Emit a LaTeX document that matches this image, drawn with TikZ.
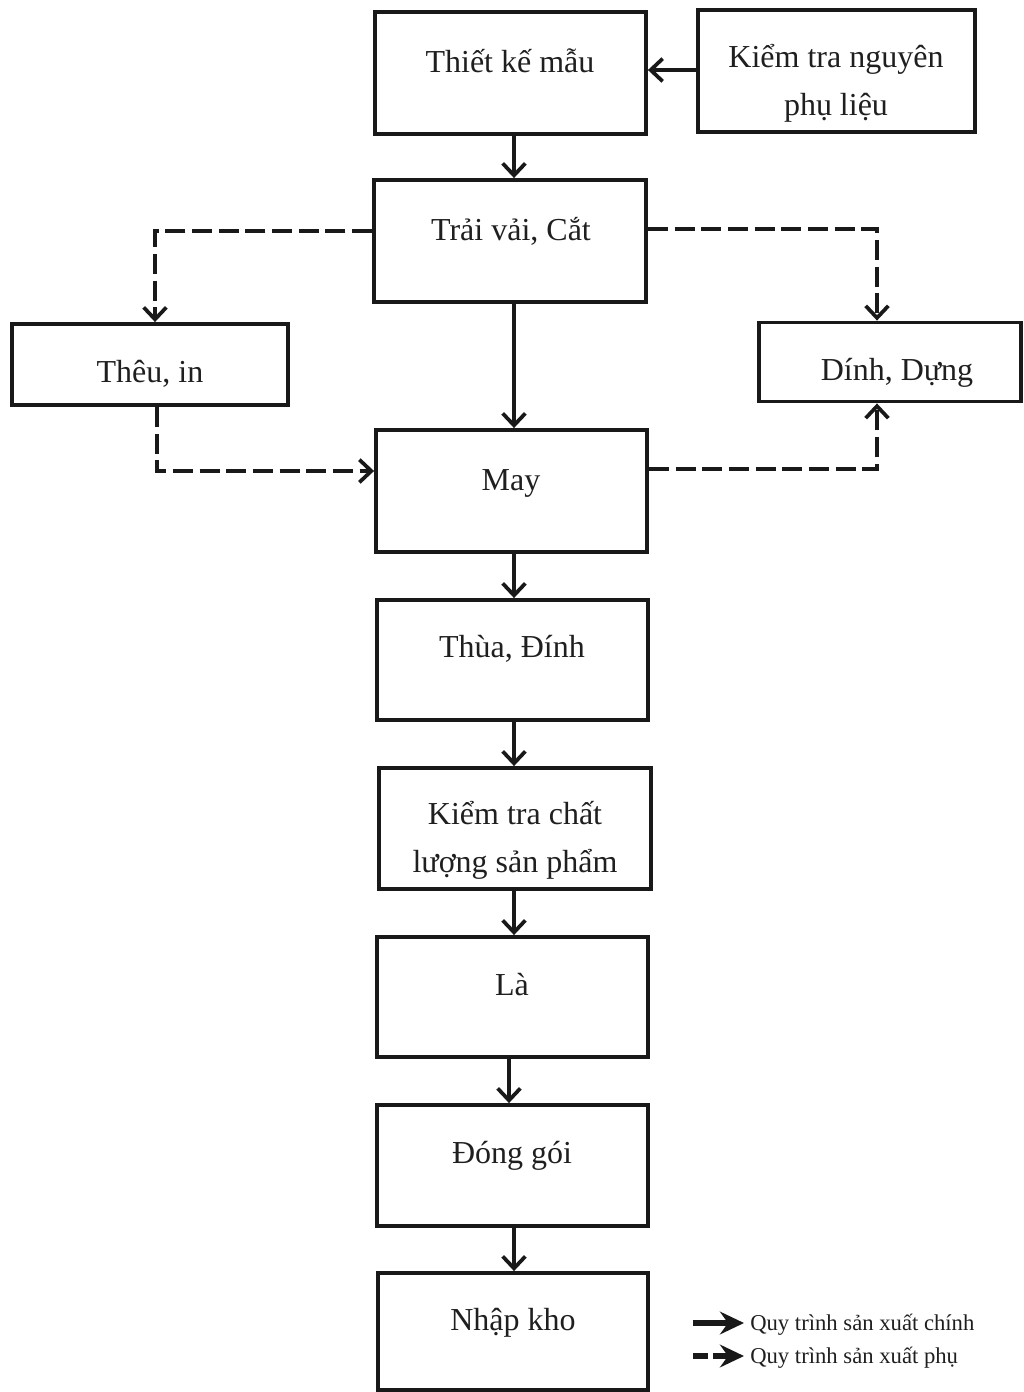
\documentclass[tikz,border=0pt]{standalone}
\usepackage{fontspec}
\setmainfont{Liberation Serif}
\usetikzlibrary{arrows.meta}
\newlength\pxu
\setlength\pxu{0.75pt}
\begin{document}
\begin{tikzpicture}[x=0.75pt,y=-0.75pt,
  box/.style={draw=black!90, line width=2.9pt, rectangle, inner sep=0pt},
  lbl/.style={font=\fontsize{24}{36}\selectfont, align=center, anchor=base, inner sep=0pt, text=black!88},
  leg/.style={font=\fontsize{17}{20}\selectfont, anchor=base west, inner sep=0pt, text=black!88},
  mainflow/.style={draw=black!90, line width=2.9pt, -{Straight Barb[length=9pt,width=17pt,line width=2.8pt]}},
  subflow/.style={draw=black!90, line width=3.4pt, dash pattern=on 15pt off 5pt, -{Straight Barb[length=9pt,width=17pt,line width=2.8pt]}},
  legmain/.style={draw=black!90, line width=4pt, -{Stealth[length=18pt,width=17pt,inset=6pt]}},
  legsub/.style={draw=black!90, line width=4pt, dash pattern=on 11pt off 4pt, -{Stealth[length=18pt,width=17pt,inset=6pt]}}]
\useasboundingbox (0,0) rectangle (1024,1392);

% process boxes
\node[box, minimum width=271*\pxu, minimum height=122*\pxu] (tk) at (510.5,73) {};
\node[box, minimum width=277*\pxu, minimum height=122*\pxu] (kt) at (836.5,71) {};
\node[box, minimum width=272*\pxu, minimum height=122*\pxu] (tv) at (510,241) {};
\node[box, minimum width=276*\pxu, minimum height=81*\pxu] (th) at (150,364.5) {};
\node[box, minimum width=262*\pxu, minimum height=79*\pxu] (dd) at (890,362) {};
\node[box, minimum width=271*\pxu, minimum height=122*\pxu] (may) at (511.5,491) {};
\node[box, minimum width=271*\pxu, minimum height=120*\pxu] (thua) at (512.5,660) {};
\node[box, minimum width=272*\pxu, minimum height=121*\pxu] (ktcl) at (515,828.5) {};
\node[box, minimum width=271*\pxu, minimum height=120*\pxu] (la) at (512.5,997) {};
\node[box, minimum width=271*\pxu, minimum height=121*\pxu] (dg) at (512.5,1165.5) {};
\node[box, minimum width=270*\pxu, minimum height=117*\pxu] (nk) at (513,1331.5) {};

% box texts (multi-line texts are placed by their last baseline)
\node[lbl] (tkt) at (510,72) {Thiết kế mẫu};
\node[lbl] (ktt) at (836,115) {Kiểm tra nguyên\\phụ liệu};
\node[lbl] (tvt) at (511,240) {Trải vải, Cắt};
\node[lbl] (tht) at (150,382) {Thêu, in};
\node[lbl] (ddt) at (897,380) {Dính, Dựng};
\node[lbl] (mayt) at (511,490) {May};
\node[lbl] (thuat) at (512,657) {Thùa, Đính};
\node[lbl] (ktclt) at (515,872) {Kiểm tra chất\\lượng sản phẩm};
\node[lbl] (lat) at (512,995) {Là};
\node[lbl] (dgt) at (512,1163) {Đóng gói};
\node[lbl] (nkt) at (513,1330) {Nhập kho};

% bend points and guide lines
\coordinate (h1) at (0,70);
\coordinate (spine) at (514,0);
\coordinate (spine2) at (509,0);
\coordinate (b1) at (155,231);
\coordinate (b2) at (157,471);
\coordinate (b3) at (877,229);
\coordinate (b4) at (877,469);

% main flow
\draw[mainflow] (kt.west |- h1) -- (tk.east |- h1);
\draw[mainflow] (tk.south -| spine) -- (tv.north -| spine);
\draw[mainflow] (tv.south -| spine) -- (may.north -| spine);
\draw[mainflow] (may.south -| spine) -- (thua.north -| spine);
\draw[mainflow] (thua.south -| spine) -- (ktcl.north -| spine);
\draw[mainflow] (ktcl.south -| spine) -- (la.north -| spine);
\draw[mainflow] (la.south -| spine2) -- (dg.north -| spine2);
\draw[mainflow] (dg.south -| spine) -- (nk.north -| spine);

% side flow
\draw[subflow] (tv.west |- b1) -- (b1) -- (b1 |- th.north);
\draw[subflow] (b2 |- th.south) -- (b2) -- (b2 -| may.west);
\draw[subflow] (tv.east |- b3) -- (b3) -- (b3 |- dd.north);
\draw[subflow] (may.east |- b4) -- (b4) -- (b4 |- dd.south);

% legend
\coordinate (lg1s) at (693,1323);
\coordinate (lg1e) at (744,1323);
\coordinate (lg2s) at (693,1356);
\coordinate (lg2e) at (744,1356);
\draw[legmain] (lg1s) -- (lg1e);
\draw[legsub] (lg2s) -- (lg2e);
\node[leg] (lg1t) at (750,1330) {Quy trình sản xuất chính};
\node[leg] (lg2t) at (750,1363) {Quy trình sản xuất phụ};
\end{tikzpicture}
\end{document}
